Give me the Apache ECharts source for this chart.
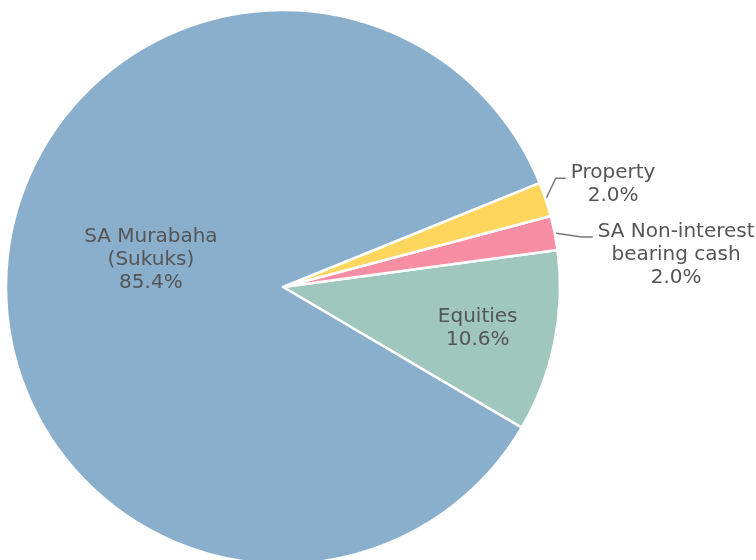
<!DOCTYPE html>
<html>
<head>
<meta charset="utf-8">
<script src="https://cdn.jsdelivr.net/npm/echarts@6/dist/echarts.min.js"></script>
<style>
  html, body { margin: 0; padding: 0; background: #fff; }
  #main { width: 756px; height: 560px; }
</style>
</head>
<body>
<div id="main"></div>
<script>
// 数据
const names = ["Equities", "SA Non-interest\nbearing cash", "Property", "SA Murabaha\n(Sukuks)"];
const values = [10.6, 2.0, 2.0, 85.4];
const colors = ["#9fc7bd", "#f78ea4", "#fed65e", "#8aafcc"];

// 内部标签微调 [dx, dy]
const innerShift = { 0: [56, 13], 3: [9, -17] };
// 外部引导线: 第一段 [dx, dy], 第二段水平长度
const outerLine = { 1: [27, 4, 11], 2: [10, -21, 10] };

const chart = echarts.init(document.getElementById("main"));

const options = {
  animation: false,
  series: [
    {
      type: "pie",
      center: [283, 287],
      radius: 277,
      startAngle: -30.5,
      clockwise: false,
      avoidLabelOverlap: false,
      itemStyle: {
        borderColor: "#fff",
        borderWidth: 2.5,
      },
      label: {
        fontFamily: "DejaVu Sans",
        fontSize: 20,
        lineHeight: 23,
        color: "#555",
        overflow: "none",
        formatter: (p) =>
          p.name
            .split("\n")
            .concat(p.value.toFixed(1) + "%")
            .map((s) => "{c|" + s + "}")
            .join("\n"),
        rich: {
          c: {
            fontFamily: "DejaVu Sans",
            fontSize: 20,
            lineHeight: 23,
            color: "#555",
            align: "center",
          },
        },
      },
      labelLine: {
        length: 15,
        length2: 10,
        lineStyle: { color: "#777", width: 1.5 },
      },
      labelLayout: (p) => {
        const s = innerShift[p.dataIndex];
        if (s) return { dx: s[0], dy: s[1] };
        const o = outerLine[p.dataIndex];
        if (o && p.labelLinePoints) {
          const p0 = p.labelLinePoints[0];
          const p1 = [p0[0] + o[0], p0[1] + o[1]];
          const p2 = [p1[0] + o[2], p1[1]];
          return {
            x: p2[0] + 5,
            y: p2[1] - 17,
            align: "left",
            verticalAlign: "top",
            labelLinePoints: [p0, p1, p2],
          };
        }
        return {};
      },
      data: values.map((v, i) => {
        const inner = i === 0 || i === 3;
        return {
          name: names[i],
          value: v,
          itemStyle: { color: colors[i] },
          label: { position: inner ? "inside" : "outside" },
          labelLine: { show: !inner },
        };
      }),
    },
  ],
};

chart.setOption(options);
</script>
</body>
</html>
